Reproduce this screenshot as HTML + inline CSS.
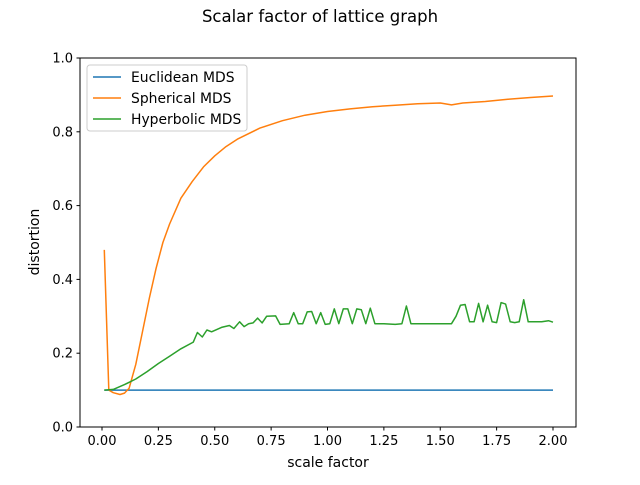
<!DOCTYPE html>
<html><head><meta charset="utf-8"><style>body{margin:0;background:#fff}svg{font-family:"DejaVu Sans","Liberation Sans",sans-serif}</style></head>
<body>
<svg id="c" width="640" height="480" viewBox="0 0 640 480">
<rect width="640" height="480" fill="#fff"/>
<text x="320" y="22" text-anchor="middle" font-size="16.5">Scalar factor of lattice graph</text>
<g id="plot"></g>
</svg>
<script>
const xTicks=[0,0.25,0.5,0.75,1.0,1.25,1.5,1.75,2.0];
const xTickLabels=["0.00","0.25","0.50","0.75","1.00","1.25","1.50","1.75","2.00"];
const yTicks=[0,0.2,0.4,0.6,0.8,1.0];
const yTickLabels=["0.0","0.2","0.4","0.6","0.8","1.0"];
const euclidX=[0.01,2.0];
const euclidY=[0.1,0.1];
const sphX=[0.01,0.03,0.05,0.08,0.1,0.12,0.15,0.18,0.21,0.24,0.27,0.3,0.35,0.4,0.45,0.5,0.55,0.6,0.7,0.8,0.9,1.0,1.1,1.2,1.3,1.4,1.5,1.55,1.6,1.7,1.8,1.9,2.0];
const sphY=[0.48,0.1,0.093,0.088,0.092,0.105,0.17,0.26,0.35,0.43,0.5,0.55,0.62,0.665,0.705,0.735,0.76,0.78,0.81,0.83,0.845,0.855,0.862,0.868,0.872,0.876,0.878,0.873,0.878,0.882,0.888,0.893,0.897];
const hypX=[0.01,0.05,0.1,0.15,0.2,0.25,0.3,0.35,0.405,0.423,0.445,0.465,0.486,0.53,0.565,0.585,0.61,0.63,0.65,0.67,0.69,0.71,0.73,0.77,0.79,0.83,0.85,0.87,0.89,0.91,0.93,0.95,0.97,0.99,1.01,1.03,1.05,1.07,1.09,1.11,1.13,1.15,1.17,1.19,1.21,1.25,1.3,1.33,1.35,1.37,1.45,1.5,1.55,1.57,1.59,1.61,1.63,1.65,1.67,1.69,1.71,1.73,1.75,1.77,1.79,1.81,1.83,1.85,1.87,1.89,1.95,1.98,2.0];
const hypY=[0.10,0.102,0.115,0.13,0.15,0.172,0.192,0.212,0.23,0.256,0.244,0.263,0.258,0.27,0.275,0.267,0.285,0.272,0.28,0.282,0.295,0.282,0.3,0.301,0.278,0.28,0.31,0.28,0.28,0.312,0.313,0.28,0.31,0.278,0.28,0.32,0.28,0.32,0.32,0.28,0.32,0.318,0.28,0.322,0.28,0.28,0.278,0.28,0.328,0.28,0.28,0.28,0.28,0.3,0.33,0.332,0.285,0.285,0.335,0.285,0.33,0.285,0.283,0.337,0.333,0.285,0.283,0.285,0.345,0.285,0.285,0.288,0.284];
const L=80,R=576,T=58,B=427;
const sx=v=>102+v*225.5, sy=v=>B-v*(B-T);
const NS="http://www.w3.org/2000/svg";
const g=document.getElementById('plot');
function mk(t,a,txt){const e=document.createElementNS(NS,t);for(const k in a)e.setAttribute(k,a[k]);if(txt!==undefined)e.textContent=txt;g.appendChild(e);return e;}
function line(xs,ys,col,name){const d=xs.map((x,i)=>(i?'L':'M')+sx(x).toFixed(1)+','+sy(ys[i]).toFixed(1)).join('');const p=mk('path',{d:d,fill:'none',stroke:col,'stroke-width':1.5,'stroke-linejoin':'round'});

}
xTicks.forEach((v,i)=>{mk('line',{x1:sx(v),x2:sx(v),y1:B,y2:B+3.5,stroke:'#000'});const t=mk('text',{x:sx(v),y:B+18,'text-anchor':'middle','font-size':13},xTickLabels[i]);

});
yTicks.forEach((v,i)=>{mk('line',{x1:L-3.5,x2:L,y1:sy(v),y2:sy(v),stroke:'#000'});const t=mk('text',{x:L-7,y:sy(v)+4.5,'text-anchor':'end','font-size':13},yTickLabels[i]);

});
line(euclidX,euclidY,'#1f77b4','euclidean-mds-line');
line(sphX,sphY,'#ff7f0e','spherical-mds-line');
line(hypX,hypY,'#2ca02c','hyperbolic-mds-line');
const fr=mk('rect',{x:L,y:T,width:R-L,height:B-T,fill:'none',stroke:'#000','stroke-width':1});


const xl=mk('text',{x:(L+R)/2,y:467,'text-anchor':'middle','font-size':14},'scale factor');


const yl=mk('text',{x:0,y:0,'text-anchor':'middle','font-size':14,transform:'translate(39,242) rotate(-90)'},'distortion');


const lg=mk('rect',{x:87,y:65,width:160,height:66,rx:3,fill:'#fff','fill-opacity':0.8,stroke:'#ccc'});


[['Euclidean MDS','#1f77b4'],['Spherical MDS','#ff7f0e'],['Hyperbolic MDS','#2ca02c']].forEach((e,i)=>{const y=77+i*21;mk('line',{x1:93,x2:121,y1:y,y2:y,stroke:e[1],'stroke-width':1.5});const t=mk('text',{x:131,y:y+5,'font-size':13.9},e[0]);

});
</script>
</body></html>
